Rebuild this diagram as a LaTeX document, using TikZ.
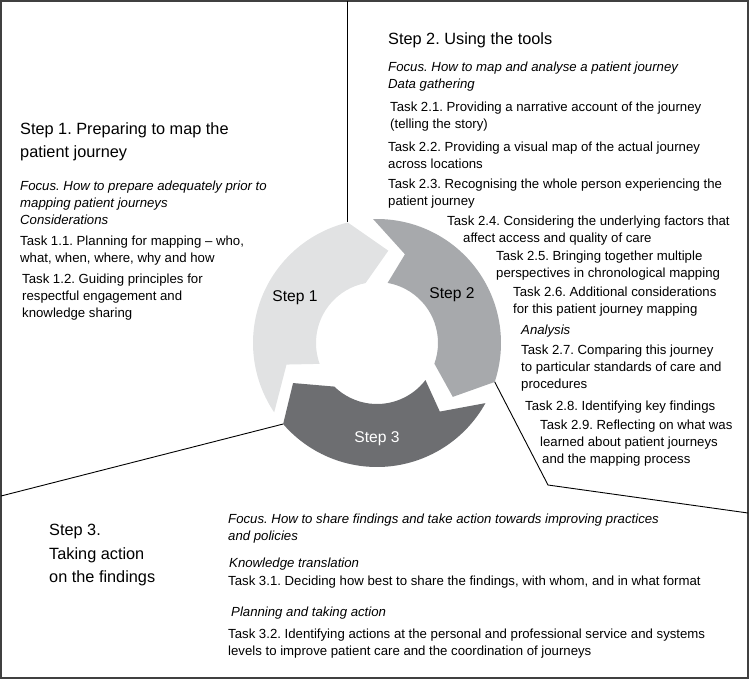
\documentclass[tikz,border=0pt]{standalone}
\usepackage{fontspec}
\setmainfont{Liberation Sans}
\usetikzlibrary{calc,positioning}
\definecolor{stepa}{HTML}{E1E2E3}
\definecolor{stepb}{HTML}{A7A9AC}
\definecolor{stepc}{HTML}{6D6E71}
\frenchspacing
\newcommand{\ringpart}[8]{%
  \fill[#1] ($(c)+(#2:124)$) -- ($(c)+(#3:93)$) -- ($(c)+(#4:61)$)
    arc[start angle=#4, end angle=#5, radius=61]
    -- ($(c)+(#6:93)$) -- ($(c)+(#7:124)$)
    arc[start angle=#7, end angle=#2, radius=124] -- cycle;
  \coordinate (#8) at ($(c)+(#7:124)$);}

\begin{document}
\begin{tikzpicture}[x=1pt, y=-1pt,
	tstyle/.style={anchor=north west, inner sep=0pt, align=left,
	font=\fontsize{13.2}{17}\selectfont},
	fstyle/.style={tstyle, font=\fontsize{13.2}{17}\selectfont\itshape},
	hstyle/.style={anchor=north west, inner sep=0pt, align=left,
	font=\fontsize{16.3}{23.5}\selectfont},
	lstyle/.style={inner sep=0pt, font=\fontsize{15.6}{18}\selectfont},
	lnstyle/.style={line width=0.9pt, black}
	]
	\useasboundingbox (0,0) rectangle (750,689);
	\draw[line width=1.6pt, black!75] (1,1) rectangle (748,678);
	
	\coordinate (c) at (377,343);
	\ringpart{stepa}{146}{166.6}{160}{259.2}{277}{256.4}{e1}
	\ringpart{stepb}{268.2}{287.5}{280}{379.8}{395.4}{378.3}{e2}
	\ringpart{stepc}{389}{407.5}{397.4}{494.4}{514.5}{499.2}{e3}
	
	\node[lstyle] (s1) at (295,298) {Step 1};
	\node[lstyle] (s2) at (452,295) {Step 2};
	\node[lstyle, text=white] (s3) at (377,439) {Step 3};
	
	\coordinate (top) at (e1 |- 0,1);
	\coordinate (lft) at (1,496);
	\coordinate (kink) at (548,485);
	\coordinate (rgt) at (748,513);
	\draw[lnstyle] (top) -- (e1);
	\draw[lnstyle] (lft) -- (e3);
	\draw[lnstyle] (e2) -- (kink) -- (rgt);
	
	\node[hstyle] (h1) at (20,122) {Step 1. Preparing to map the\\patient journey};
	\node[fstyle] (f1) at (20,181) {Focus. How to prepare adequately prior to\\mapping patient journeys};
	\node[fstyle] (c1) at (20,215) {Considerations};
	\node[tstyle] (t11) at (20,236) {Task 1.1. Planning for mapping -- who,\\what, when, where, why and how};
	\node[tstyle] (t12) at (22,274) {Task 1.2. Guiding principles for\\respectful engagement and\\knowledge sharing};
	
	\node[hstyle] (h2) at (388,32) {Step 2. Using the tools};
	\node[fstyle] (f2) at (388,62) {Focus. How to map and analyse a patient journey\\Data gathering};
	\node[tstyle] (t21) at (390,102) {Task 2.1. Providing a narrative account of the journey\\(telling the story)};
	\node[tstyle] (t22) at (388,142) {Task 2.2. Providing a visual map of the actual journey\\across locations};
	\node[tstyle] (t23) at (388,179) {Task 2.3. Recognising the whole person experiencing the\\patient journey};
	\node[tstyle] (t24) at (447,216) {Task 2.4. Considering the underlying factors that\\\hspace*{16pt}affect access and quality of care};
	\node[tstyle] (t25) at (496,251) {Task 2.5. Bringing together multiple\\perspectives in chronological mapping};
	\node[tstyle] (t26) at (513,287) {Task 2.6. Additional considerations\\for this patient journey mapping};
	\node[fstyle] (a2) at (521,325) {Analysis};
	\node[tstyle] (t27) at (521,345) {Task 2.7. Comparing this journey\\to particular standards of care and\\procedures};
	\node[tstyle] (t28) at (525,401) {Task 2.8. Identifying key findings};
	\node[tstyle] (t29) at (540,420) {Task 2.9. Reflecting on what was\\learned about patient journeys\\\hspace*{2pt}and the mapping process};
	
	\node[hstyle] (h3) at (49,524) {Step 3.\\Taking action\\on the findings};
	\node[fstyle] (f3) at (228,514) {Focus. How to share findings and take action towards improving practices\\and policies};
	\node[fstyle] (k3) at (229,558) {Knowledge translation};
	\node[tstyle] (t31) at (228,576) {Task 3.1. Deciding how best to share the findings, with whom, and in what format};
	\node[fstyle] (p3) at (231,607) {Planning and taking action};
	\node[tstyle] (t32) at (228,629) {Task 3.2. Identifying actions at the personal and professional service and systems\\levels to improve patient care and the coordination of journeys};
\end{tikzpicture}
\end{document}
